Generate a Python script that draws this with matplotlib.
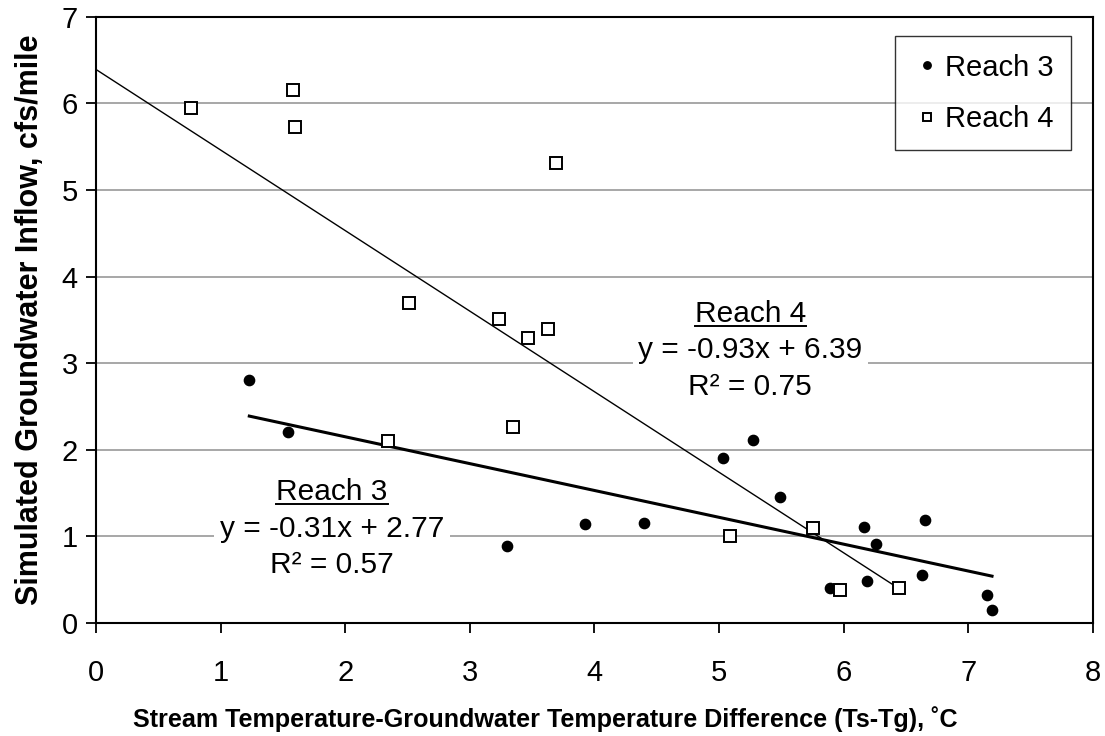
import numpy as np
import matplotlib.pyplot as plt

plt.rcParams['font.family'] = ['Liberation Sans', 'DejaVu Sans']

# data
reach3_x = [1.23, 1.54, 3.30, 3.92, 4.40, 5.03, 5.27, 5.49, 5.89, 6.16, 6.19, 6.26, 6.63, 6.65, 7.15, 7.19]
reach3_y = [2.80, 2.20, 0.89, 1.14, 1.15, 1.91, 2.11, 1.46, 0.40, 1.11, 0.49, 0.91, 0.56, 1.19, 0.32, 0.15]

reach4_x = [0.76, 1.58, 1.60, 3.69, 2.51, 3.23, 3.47, 3.63, 2.34, 3.35, 5.09, 5.75, 5.97, 6.44]
reach4_y = [5.94, 6.15, 5.73, 5.31, 3.70, 3.51, 3.29, 3.39, 2.10, 2.26, 1.00, 1.10, 0.38, 0.40]

# trendline coefficients (slope, intercept, R^2) as labelled
fit3 = (-0.31, 2.77, 0.57)
fit4 = (-0.93, 6.39, 0.75)

fig = plt.figure(figsize=(11.05, 7.36), dpi=100)
ax = fig.add_axes([0.0869, 0.1535, 0.9022, 0.8239])

ax.set_xlim(0, 8)
ax.set_ylim(0, 7)
ax.set_yticks(range(0, 8))
ax.set_xticks(range(0, 9))
for y in range(1, 7):
    ax.axhline(y, color='#a0a0a0', lw=1.3, zorder=0)

ax.plot(reach3_x, reach3_y, 'o', color='black', ms=7.4, ls='none', label='Reach 3', zorder=3)
ax.plot(reach4_x, reach4_y, 's', mfc='white', mec='black', mew=1.4, ms=8.5, ls='none', label='Reach 4', zorder=3)

# trendlines
x3 = np.array([min(reach3_x), max(reach3_x)])
ax.plot(x3, fit3[0] * x3 + fit3[1], color='black', lw=2.2, zorder=2)
x4 = np.array([0, max(reach4_x)])
ax.plot(x4, fit4[0] * x4 + fit4[1], color='black', lw=1.0, zorder=2)

for sp in ax.spines.values():
    sp.set_linewidth(1.5)
ax.tick_params(direction='out', length=7, width=1.3, labelsize=21)
ax.tick_params(axis='x', pad=19)
ax.tick_params(axis='y', pad=6)

ax.set_xlabel('Stream Temperature-Groundwater Temperature Difference (Ts-Tg), ˚C',
              fontsize=18.1, fontweight='bold', labelpad=14)
ax.xaxis.set_label_coords(0.451, -0.137)
ax.set_ylabel('Simulated Groundwater Inflow, cfs/mile', fontsize=22, fontweight='bold', labelpad=12)

leg = ax.legend(loc='upper right', bbox_to_anchor=(0.978, 0.968), fontsize=21, frameon=True,
                fancybox=False, edgecolor='black', markerscale=0.72, handlelength=1.0,
                handletextpad=0.1, borderpad=0.6, labelspacing=0.8, borderaxespad=0)
leg.get_frame().set_linewidth(1.0)
leg.set_zorder(5)

# trendline labels
def block(xc, y_title, y_eq, y_r2, name, fit):
    t = ax.text(xc, y_title, name, ha='center', va='baseline', fontsize=21.5, zorder=4)
    ax.text(xc, y_eq, 'y = %.2fx + %.2f' % (fit[0], fit[1]), ha='center', va='baseline', fontsize=21.5,
            bbox=dict(facecolor='white', edgecolor='none', pad=4), zorder=4)
    ax.text(xc, y_r2, 'R² = %.2f' % fit[2], ha='center', va='baseline', fontsize=21.5, zorder=4)
    return t

t4 = block(5.25, 3.47, 3.06, 2.63, 'Reach 4', fit4)
t3 = block(1.895, 1.42, 0.99, 0.58, 'Reach 3', fit3)

fig.canvas.draw()
inv = ax.transData.inverted()
for t in (t3, t4):
    bb = t.get_window_extent()
    (x0, y0) = inv.transform((bb.x0, bb.y0 + 2))
    (x1, _) = inv.transform((bb.x1, bb.y0 + 2))
    ax.plot([x0, x1], [y0, y0], color='black', lw=1.4, zorder=4)

fig.savefig('out.png', dpi=100)
